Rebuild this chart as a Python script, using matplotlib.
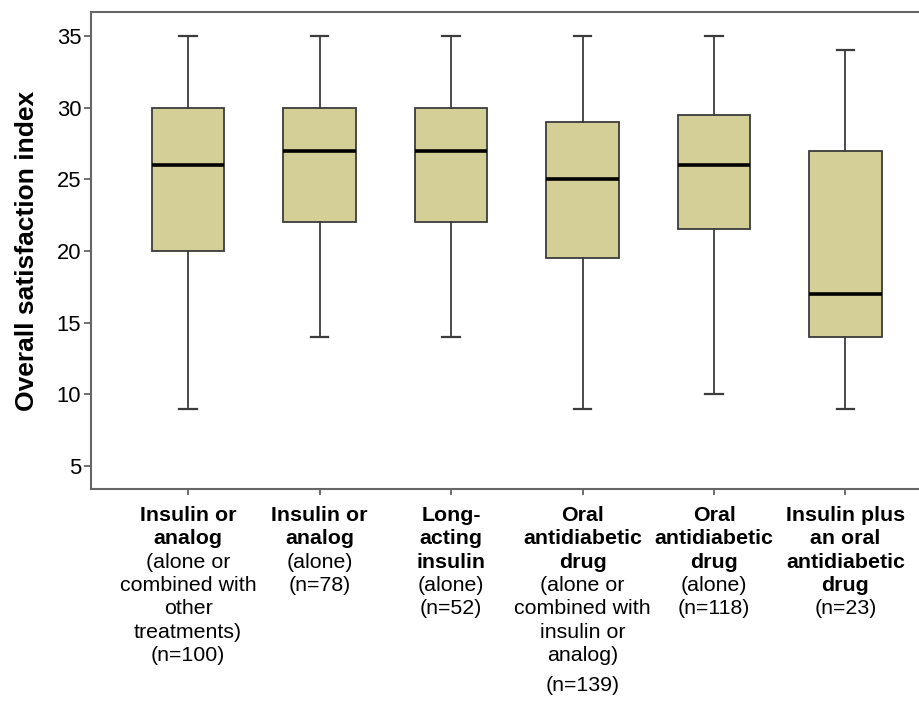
import numpy as np
import matplotlib.pyplot as plt
import matplotlib.transforms as mtransforms

plt.rcParams['font.family'] = ['Liberation Sans', 'DejaVu Sans']

# box statistics
whislo = [9, 14, 14, 9, 10, 9]
q1 = [20, 22, 22, 19.5, 21.5, 14]
med = [26, 27, 27, 25, 26, 17]
q3 = [30, 30, 30, 29, 29.5, 27]
whishi = [35, 35, 35, 35, 35, 34]

# category labels: bold part, then regular part
bold_lines = [
    ['Insulin or', 'analog'],
    ['Insulin or', 'analog'],
    ['Long-', 'acting', 'insulin'],
    ['Oral', 'antidiabetic', 'drug'],
    ['Oral', 'antidiabetic', 'drug'],
    ['Insulin plus', 'an oral', 'antidiabetic', 'drug'],
]
plain_lines = [
    ['(alone or', 'combined with', 'other', 'treatments)'],
    ['(alone)'],
    ['(alone)'],
    ['(alone or', 'combined with', 'insulin or', 'analog)'],
    ['(alone)'],
    [],
]
n_sizes = [100, 78, 52, 139, 118, 23]

fill = '#D3CF97'
edge = '#3c3c3c'

fig = plt.figure(figsize=(9.19, 7.02), dpi=100)
ax = fig.add_axes([0.099, 0.3034, 0.901, 0.6795])

stats = []
for i in range(len(med)):
    stats.append({'whislo': whislo[i], 'q1': q1[i], 'med': med[i],
                  'q3': q3[i], 'whishi': whishi[i], 'fliers': []})

pos = np.arange(1, len(med) + 1)
ax.bxp(stats, positions=pos, widths=0.55, capwidths=0.13, patch_artist=True,
       showfliers=False,
       boxprops=dict(facecolor=fill, edgecolor=edge, linewidth=1.3),
       whiskerprops=dict(color=edge, linewidth=1.3),
       capprops=dict(color=edge, linewidth=1.6),
       medianprops=dict(color='black', linewidth=2.6))

ax.set_xlim(0.262, 6.559)
ax.set_ylim(3.395, 36.67)
ax.set_yticks([5, 10, 15, 20, 25, 30, 35])
ax.set_xticks(pos)
ax.set_xticklabels([])
ax.tick_params(axis='y', labelsize=15.8, length=5, width=1.2, color='#555555', pad=2)
ax.tick_params(axis='x', length=4, width=1.2, color='#555555')
ax.set_ylabel('Overall satisfaction index', fontsize=19, fontweight='bold', labelpad=13)

for s in ['left', 'bottom', 'top']:
    ax.spines[s].set_color('#666666')
    ax.spines[s].set_linewidth(1.5)
ax.spines['right'].set_visible(False)

# multi-line category labels, mixing bold and regular lines
trans = mtransforms.blended_transform_factory(ax.transData, ax.transAxes)
line_pt = 16.8
fs = 15.4
for i, x in enumerate(pos):
    y = -23.0
    for t in bold_lines[i]:
        ax.annotate(t, xy=(x, 0), xycoords=trans, xytext=(0, y), textcoords='offset points',
                    ha='center', va='baseline', fontsize=fs, fontweight='bold', annotation_clip=False)
        y -= line_pt
    for t in plain_lines[i]:
        ax.annotate(t, xy=(x, 0), xycoords=trans, xytext=(0, y), textcoords='offset points',
                    ha='center', va='baseline', fontsize=fs, annotation_clip=False)
        y -= line_pt
    if len(plain_lines[i]) >= 4 and len(bold_lines[i]) >= 3:
        y -= 4.5
    ax.annotate('(n=%d)' % n_sizes[i], xy=(x, 0), xycoords=trans, xytext=(0, y),
                textcoords='offset points', ha='center', va='baseline', fontsize=fs,
                annotation_clip=False)

fig.savefig('out.png', dpi=100)
